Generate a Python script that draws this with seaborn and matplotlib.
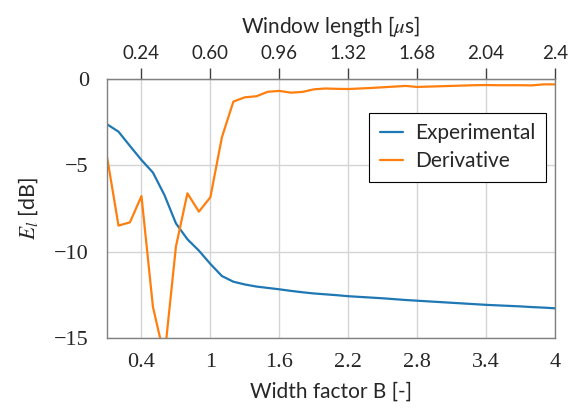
import numpy as np
import pandas as pd
import matplotlib
matplotlib.use("Agg")
import matplotlib.pyplot as plt
import seaborn as sns

width_factor = [0.1, 0.2, 0.3, 0.4, 0.5, 0.6, 0.7, 0.8, 0.9, 1.0,
                1.1, 1.2, 1.3, 1.4, 1.5, 1.6, 1.7, 1.8, 1.9, 2.0,
                2.1, 2.2, 2.3, 2.4, 2.5, 2.6, 2.7, 2.8, 2.9, 3.0,
                3.1, 3.2, 3.3, 3.4, 3.5, 3.6, 3.7, 3.8, 3.9, 4.0]
experimental = [-2.62, -3.05, -3.88, -4.69, -5.42, -6.72, -8.36, -9.28, -9.94, -10.71,
                -11.41, -11.74, -11.90, -12.02, -12.10, -12.18, -12.27, -12.35, -12.42, -12.47,
                -12.52, -12.58, -12.62, -12.66, -12.70, -12.75, -12.80, -12.84, -12.88, -12.92,
                -12.96, -13.00, -13.04, -13.08, -13.11, -13.14, -13.17, -13.21, -13.24, -13.28]
derivative = [-4.5, -8.49, -8.3, -6.78, -13.2, -16.1, -9.71, -6.62, -7.68, -6.85,
              -3.38, -1.31, -1.06, -1.0, -0.74, -0.69, -0.79, -0.75, -0.6, -0.55,
              -0.57, -0.58, -0.55, -0.52, -0.48, -0.44, -0.40, -0.46, -0.44, -0.42,
              -0.40, -0.38, -0.36, -0.35, -0.36, -0.36, -0.36, -0.37, -0.31, -0.31]
series_names = ["Experimental", "Derivative"]
bottom_ticks = [0.4, 1.0, 1.6, 2.2, 2.8, 3.4, 4.0]
bottom_labels = ["0.4", "1", "1.6", "2.2", "2.8", "3.4", "4"]
top_ticks = [0.24, 0.60, 0.96, 1.32, 1.68, 2.04, 2.4]
top_labels = ["0.24", "0.60", "0.96", "1.32", "1.68", "2.04", "2.4"]
y_ticks = [0, -5, -10, -15]
y_labels = ["0", "\u22125", "\u221210", "\u221215"]
us_per_B = 0.6

df = pd.DataFrame({
    "B": width_factor * 2,
    "E": experimental + derivative,
    "series": [series_names[0]] * len(width_factor) + [series_names[1]] * len(width_factor),
})

sns.set_style("white")
plt.rcParams["font.family"] = ["Lato", "DejaVu Sans"]
plt.rcParams["mathtext.fontset"] = "stix"

fig = plt.figure(figsize=(5.68, 4.12), dpi=100)
ax = fig.add_axes([107 / 568, 1 - 338 / 412, 448 / 568, 259 / 412])

sns.lineplot(data=df, x="B", y="E", hue="series", palette=["#1f77b4", "#ff7f0e"],
             linewidth=1.6, ax=ax, legend=True)

ax.set_xlim(0.1, 4.0)
ax.set_ylim(-15, 0)
ax.set_xticks(bottom_ticks)
ax.set_xticklabels(bottom_labels)
ax.set_yticks(y_ticks)
ax.set_yticklabels(y_labels)
serif = ["Liberation Serif", "DejaVu Serif"]
for lab in ax.get_xticklabels() + ax.get_yticklabels():
    lab.set_fontfamily(serif)
    lab.set_fontsize(16)
ax.grid(True, color="#d4d4d4", linewidth=1.0)
ax.set_axisbelow(True)
for sp in ax.spines.values():
    sp.set_color("#808080")
    sp.set_linewidth(1.0)
ax.tick_params(axis="x", direction="out", length=8, width=1, color="#404040", pad=3)
ax.tick_params(axis="y", direction="out", length=8, width=1, color="#404040", pad=5)

ax.set_xlabel("Width factor B [-]", fontsize=15, labelpad=7)
ax.set_ylabel(r"$E_l$ [dB]", fontsize=15.5, labelpad=10)

sec = ax.secondary_xaxis("top", functions=(lambda b: b * us_per_B, lambda w: w / us_per_B))
sec.set_xticks(top_ticks)
sec.set_xticklabels(top_labels, fontsize=13.5)
sec.tick_params(direction="out", length=8, width=1, color="#404040", pad=4)
sec.spines["top"].set_color("#808080")
sec.set_xlabel(r"Window length [$\mu$s]", fontsize=15, labelpad=9)

leg = ax.legend(loc="upper right", bbox_to_anchor=(0.980, 0.869), borderaxespad=0,
                fontsize=15, frameon=True, fancybox=False, edgecolor="black", framealpha=1,
                handlelength=1.1, handletextpad=0.6, borderpad=0.5, labelspacing=0.38)
leg.get_frame().set_linewidth(0.8)
leg.set_title(None)

fig.savefig("out.png", dpi=100)
